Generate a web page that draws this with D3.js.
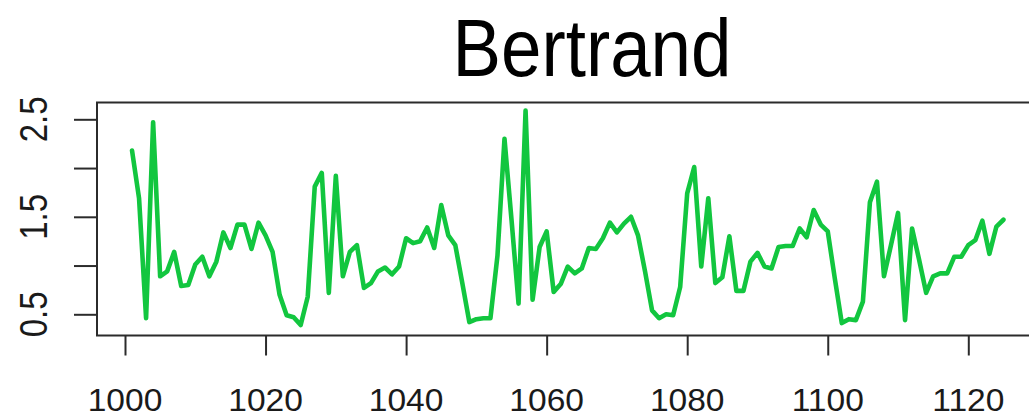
<!DOCTYPE html>
<html>
<head>
<meta charset="utf-8">
<script src="https://cdn.jsdelivr.net/npm/d3@7/dist/d3.min.js"></script>
<style>
  html, body { margin: 0; padding: 0; background: #fff; }
  svg { display: block; }
</style>
</head>
<body>
<svg id="chart" width="1029" height="417"></svg>
<script>
// Series: one value per year, 1001 through 1125
const startYear = 1001;
const values = [
  2.18, 1.69, 0.46, 2.47, 0.89, 0.94, 1.14, 0.79, 0.80, 1.01,
  1.09, 0.89, 1.04, 1.34, 1.18, 1.42, 1.42, 1.17, 1.44, 1.31,
  1.14, 0.70, 0.49, 0.47, 0.39, 0.68, 1.81, 1.95, 0.72, 1.92,
  0.89, 1.14, 1.21, 0.77, 0.82, 0.94, 0.98, 0.91, 0.99, 1.28,
  1.23, 1.25, 1.39, 1.18, 1.62, 1.31, 1.21, 0.82, 0.42, 0.45,
  0.46, 0.46, 1.10, 2.30, 1.47, 0.61, 2.59, 0.65, 1.19, 1.35,
  0.73, 0.81, 0.99, 0.92, 0.97, 1.18, 1.17, 1.28, 1.44, 1.34,
  1.43, 1.50, 1.31, 0.94, 0.54, 0.46, 0.50, 0.49, 0.78, 1.74,
  2.01, 0.99, 1.69, 0.82, 0.88, 1.30, 0.74, 0.74, 1.04, 1.13,
  0.99, 0.97, 1.19, 1.20, 1.20, 1.38, 1.29, 1.57, 1.42, 1.35,
  0.87, 0.41, 0.45, 0.44, 0.63, 1.65, 1.86, 0.89, 1.21, 1.54,
  0.44, 1.38, 1.06, 0.72, 0.89, 0.92, 0.92, 1.09, 1.09, 1.21,
  1.26, 1.46, 1.12, 1.40, 1.47
];
const years = values.map((_, i) => startYear + i);

const xTicks = [1000, 1020, 1040, 1060, 1080, 1100, 1120];
const yTicks = [0.5, 1.0, 1.5, 2.0, 2.5];
const yTickLabels = ["0.5", "", "1.5", "", "2.5"];
const title = "Bertrand";

const svg = d3.select("#chart");

const x = d3.scaleLinear().domain([1000, 1120]).range([125, 968.3]);
const y = d3.scaleLinear().domain([0.5, 2.5]).range([314.3, 119.3]);

const box = { left: 97, top: 102.5, bottom: 335.5, right: 1095 };
const axisColor = "#2b2b2b";
const font = "'Liberation Sans', Arial, Helvetica, sans-serif";

// Series line
const line = d3.line()
  .x((d, i) => x(years[i]))
  .y(d => y(d));

svg.append("path")
  .datum(values)
  .attr("d", line)
  .attr("fill", "none")
  .attr("stroke", "#12c63f")
  .attr("stroke-width", 4.6)
  .attr("stroke-linejoin", "round")
  .attr("stroke-linecap", "round");

// Plot frame
svg.append("rect")
  .attr("x", box.left)
  .attr("y", box.top)
  .attr("width", box.right - box.left)
  .attr("height", box.bottom - box.top)
  .attr("fill", "none")
  .attr("stroke", axisColor)
  .attr("stroke-width", 2);

// Bottom axis
const xAxis = svg.append("g")
  .attr("transform", `translate(0,${box.bottom})`)
  .call(d3.axisBottom(x).tickValues(xTicks).tickSize(20).tickFormat(""));
xAxis.select(".domain").remove();
xAxis.selectAll(".tick line").attr("stroke", axisColor).attr("stroke-width", 2);

svg.append("g").selectAll("text")
  .data(xTicks)
  .join("text")
  .attr("transform", d => `translate(${x(d)},411) scale(1.1,1)`)
  .attr("text-anchor", "middle")
  .attr("font-family", font)
  .attr("font-size", 30.5)
  .attr("fill", "#1a1a1a")
  .text(d => d3.format("d")(d));

// Left axis
const yAxis = svg.append("g")
  .attr("transform", `translate(${box.left},0)`)
  .call(d3.axisLeft(y).tickValues(yTicks).tickSize(23).tickFormat(""));
yAxis.select(".domain").remove();
yAxis.selectAll(".tick line").attr("stroke", axisColor).attr("stroke-width", 2);

svg.append("g").selectAll("text")
  .data(yTicks.map((v, i) => ({ v, label: yTickLabels[i] })).filter(d => d.label))
  .join("text")
  .attr("transform", d => `translate(46.5,${y(d.v)}) scale(1.17,1) rotate(-90)`)
  .attr("text-anchor", "middle")
  .attr("font-family", font)
  .attr("font-size", 33)
  .attr("fill", "#1a1a1a")
  .text(d => d.label);

// Title
svg.append("text")
  .attr("x", 592)
  .attr("y", 76)
  .attr("text-anchor", "middle")
  .attr("font-family", font)
  .attr("font-size", 82)
  .attr("textLength", 279)
  .attr("lengthAdjust", "spacingAndGlyphs")
  .attr("fill", "#000")
  .text(title);
</script>
</body>
</html>
